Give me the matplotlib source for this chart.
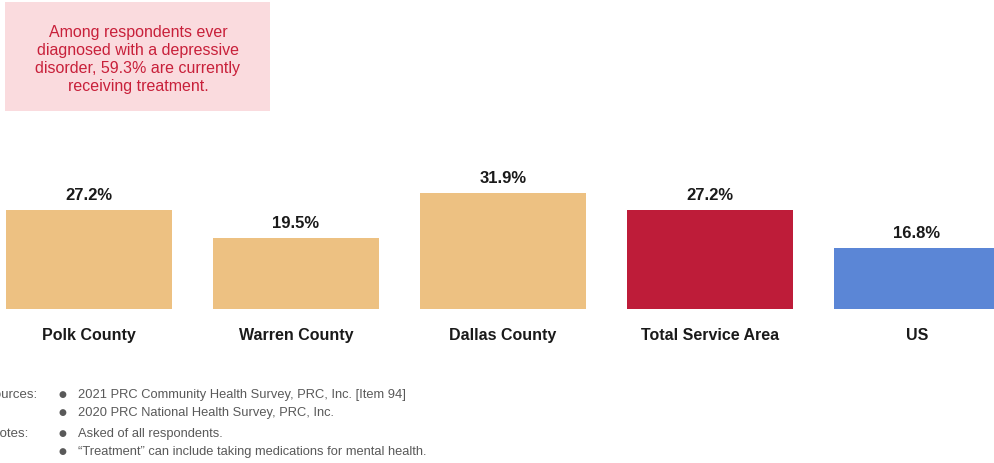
import matplotlib
matplotlib.use("Agg")
import matplotlib.pyplot as plt
from matplotlib.patches import Rectangle

categories = ["Polk County", "Warren County", "Dallas County", "Total Service Area", "US"]
values = [27.2, 19.5, 31.9, 27.2, 16.8]
colors = ["#EDC182", "#EDC182", "#EDC182", "#BE1C39", "#5B86D6"]
callout = "Among respondents ever\ndiagnosed with a depressive\ndisorder, 59.3% are currently\nreceiving treatment."
source_lines = ["2021 PRC Community Health Survey, PRC, Inc. [Item 94]",
                "2020 PRC National Health Survey, PRC, Inc."]
note_lines = ["Asked of all respondents.",
              "\u201cTreatment\u201d can include taking medications for mental health."]

plt.rcParams['font.family'] = ['Liberation Sans', 'DejaVu Sans']

W, H = 995, 464
fig = plt.figure(figsize=(W/100, H/100), dpi=100)

px_per_unit = 207.0
left_px, right_px = 0, 995
base_px = 310
top_px = 164
ax = fig.add_axes([left_px/W, (H-base_px)/H, (right_px-left_px)/W, (base_px-top_px)/H])
x0 = -89/px_per_unit
ax.set_xlim(x0, x0 + (right_px-left_px)/px_per_unit)
ax.set_ylim(0, (base_px-top_px)/3.64)
xs = list(range(len(categories)))
ax.bar(xs, values, width=0.802, color=colors, clip_on=False)
for x, v in zip(xs, values):
    ax.annotate(f"{v:.1f}%", (x, v), xytext=(0, 6), textcoords="offset points",
                ha="center", va="bottom", fontsize=12, fontweight="bold", color="#1a1a1a")
ax.set_xticks(xs)
ax.set_xticklabels(categories, fontsize=11.5, fontweight="bold", color="#1a1a1a")
ax.tick_params(axis="x", length=0, pad=13)
ax.set_yticks([])
for s in ax.spines.values():
    s.set_visible(False)
ax.patch.set_alpha(0)

fig.patches.append(Rectangle((5/W, 1-112/H), 265/W, 109/H, transform=fig.transFigure,
                             facecolor="#FADBDE", edgecolor="none", zorder=0))
fig.text(138/W, 1-59/H, callout, ha="center", va="center", fontsize=11.5,
         color="#C8203A", linespacing=1.25)

grey = "#595959"
ys = [395, 413, 434, 452]
fig.text(-15/W, 1-ys[0]/H, "Sources:", ha="left", va="center", fontsize=9.5, color=grey)
fig.text(-9/W, 1-ys[2]/H, "Notes:", ha="left", va="center", fontsize=9.5, color=grey)
for y, t in zip(ys, source_lines + note_lines):
    fig.text(62/W, 1-y/H, "\u25CF", ha="center", va="center", fontsize=6.5,
             color=grey, family="DejaVu Sans")
    fig.text(78/W, 1-y/H, t, ha="left", va="center", fontsize=9.3, color=grey)

fig.savefig("out.png", dpi=100)
